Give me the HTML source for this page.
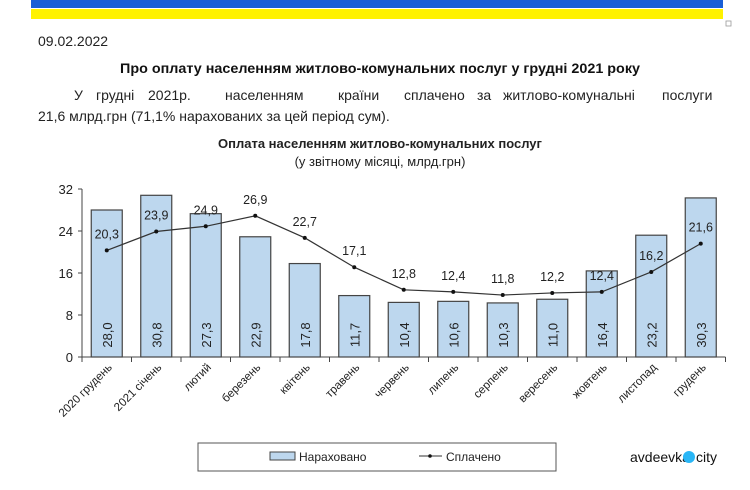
<!DOCTYPE html>
<html><head><meta charset="utf-8"><style>
body{margin:0;background:#fff;width:750px;height:485px;overflow:hidden;font-family:"Liberation Sans","DejaVu Sans",sans-serif;}
</style></head><body>
<svg id="s" width="750" height="485" xmlns="http://www.w3.org/2000/svg" font-family="Liberation Sans, DejaVu Sans, sans-serif">
<rect x="31" y="0" width="692" height="8" fill="#1a5fd6"/>
<rect x="31" y="9" width="692" height="10" fill="#fff200"/>
<rect x="726" y="21" width="5" height="5" fill="none" stroke="#999" stroke-width="0.8"/>
<text x="38" y="46" font-size="14" fill="#222">09.02.2022</text>
<text x="380" y="73" font-size="13.5" font-weight="bold" text-anchor="middle" fill="#111" textLength="520" lengthAdjust="spacingAndGlyphs">Про оплату населенням житлово-комунальних послуг у грудні 2021 року</text>
<text font-size="14" fill="#222" y="100"><tspan x="74">У</tspan><tspan x="96">грудні</tspan><tspan x="148">2021р.</tspan><tspan x="225">населенням</tspan><tspan x="338">країни</tspan><tspan x="404">сплачено</tspan><tspan x="477">за</tspan><tspan x="503">житлово-комунальні</tspan><tspan x="662">послуги</tspan></text>
<text x="38" y="121" font-size="14" fill="#222">21,6 млрд.грн (71,1%  нарахованих за цей період сум).</text>
<text x="380" y="148" font-size="13" font-weight="bold" text-anchor="middle" fill="#222">Оплата населенням житлово-комунальних послуг</text>
<text x="380" y="166" font-size="13" text-anchor="middle" fill="#222">(у звітному місяці, млрд.грн)</text>
<g id="c"></g>
<rect x="198" y="443" width="358" height="28" fill="#fff" stroke="#555" stroke-width="1"/>
<rect x="270" y="452" width="25" height="8" fill="#bdd7ee" stroke="#444"/>
<text x="299" y="461" font-size="12" fill="#222">Нараховано</text>
<line x1="419" y1="456" x2="442" y2="456" stroke="#333"/><circle cx="430" cy="456" r="1.8" fill="#111"/>
<text x="446" y="461" font-size="12" fill="#222">Сплачено</text>
<text x="630" y="462" font-size="14" fill="#111">avdeevka</text>
<circle cx="689" cy="457" r="6" fill="#29b6f6"/>
<text x="696" y="462" font-size="14" fill="#111">city</text>
</svg>
<script>
var b=[28.0,30.8,27.3,22.9,17.8,11.7,10.4,10.6,10.3,11.0,16.4,23.2,30.3];
var l=[20.3,23.9,24.9,26.9,22.7,17.1,12.8,12.4,11.8,12.2,12.4,16.2,21.6];
var m=["2020 грудень","2021 січень","лютий","березень","квітень","травень","червень","липень","серпень","вересень","жовтень","листопад","грудень"];
var x0=82,w=49.5,y0=357,k=5.25,h='';
function f(v){return v.toFixed(1).replace('.',',');}
h+='<line x1="'+x0+'" y1="189" x2="'+x0+'" y2="'+y0+'" stroke="#444"/>';
for(var t=0;t<=32;t+=8){var y=y0-t*k;h+='<line x1="'+(x0-4)+'" y1="'+y+'" x2="'+x0+'" y2="'+y+'" stroke="#444"/><text x="'+(x0-9)+'" y="'+(y+5)+'" font-size="13" text-anchor="end" fill="#222">'+t+'</text>';}
h+='<line x1="'+x0+'" y1="'+y0+'" x2="'+(x0+13*w)+'" y2="'+y0+'" stroke="#444"/>';
for(var i=0;i<=13;i++){var xx=x0+i*w;h+='<line x1="'+xx+'" y1="'+y0+'" x2="'+xx+'" y2="'+(y0+5)+'" stroke="#444"/>';}
var pts=[];
for(var i=0;i<13;i++){var cx=x0+w*(i+0.5),bh=b[i]*k;
h+='<rect x="'+(cx-15.5)+'" y="'+(y0-bh)+'" width="31" height="'+bh+'" fill="#bdd7ee" stroke="#444" stroke-width="1.2"/>';
h+='<text transform="translate('+(cx+5)+',335) rotate(-90)" font-size="13" text-anchor="middle" fill="#222">'+f(b[i])+'</text>';
var ly=y0-l[i]*k;pts.push(cx+','+ly);
h+='<text x="'+cx+'" y="'+(ly-12)+'" font-size="12.5" text-anchor="middle" fill="#222">'+f(l[i])+'</text>';
h+='<text transform="translate('+(cx+6)+',368) rotate(-45)" font-size="11.5" text-anchor="end" fill="#222">'+m[i]+'</text>';}
h+='<polyline points="'+pts.join(' ')+'" fill="none" stroke="#333" stroke-width="1.2"/>';
pts.forEach(function(p){var a=p.split(',');h+='<circle cx="'+a[0]+'" cy="'+a[1]+'" r="2" fill="#111"/>';});
document.getElementById('c').innerHTML=h;
</script>
</body></html>
